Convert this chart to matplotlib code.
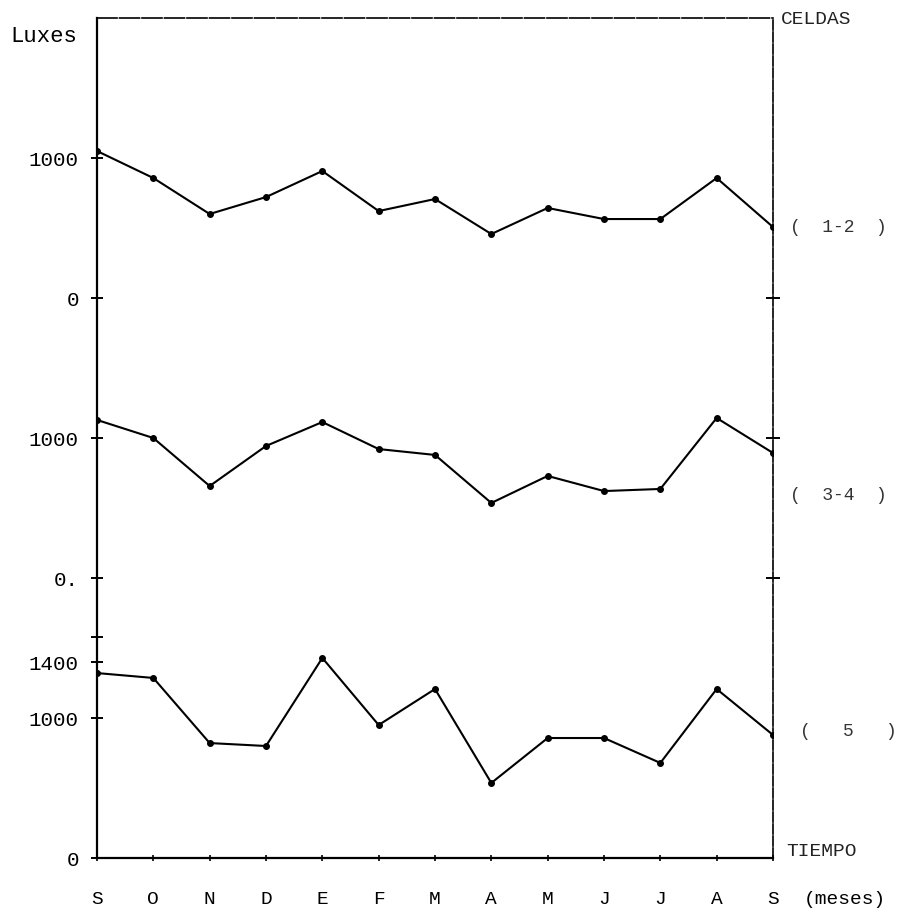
import numpy as np
import matplotlib
matplotlib.use('Agg')
import matplotlib.pyplot as plt

plt.rcParams['font.family'] = ['Liberation Mono', 'DejaVu Sans Mono']

months = ['S', 'O', 'N', 'D', 'E', 'F', 'M', 'A', 'M', 'J', 'J', 'A', 'S']

# luxes por mes, cada grupo de celdas
celdas_1_2 = [1050, 857, 600, 721, 907, 621, 707, 457, 643, 564, 564, 857, 507]
celdas_3_4 = [1129, 1000, 657, 943, 1114, 921, 879, 536, 729, 621, 636, 1143, 893]
celdas_5 = [1321, 1286, 821, 800, 1429, 950, 1207, 536, 857, 857, 679, 1207, 879]

series = [(celdas_1_2, 4000, '(  1-2  )', 0.75),
          (celdas_3_4, 2000, '(  3-4  )', 0.432),
          (celdas_5, 0, '(   5   )', 0.15)]

my_dpi = 100
fig = plt.figure(figsize=(898 / my_dpi, 911 / my_dpi), dpi=my_dpi)
ax = fig.add_axes([97 / 898, 53 / 911, 676 / 898, 840 / 911])

x = np.arange(len(months))
for vals, base, label, ypos in series:
    y = np.array(vals) + base
    ax.plot(x, y, color='black', lw=1.5, marker='o', ms=4, mec='black', mfc='black')
    xpos = 1.025 if '5' not in label else 1.04
    ax.text(xpos, ypos, label, transform=ax.transAxes,
            fontsize=13, va='center', ha='left', color='#333333')

ax.set_xlim(0, 12)
ax.set_ylim(0, 6000)

# ejes
for side in ['left', 'bottom']:
    ax.spines[side].set_linewidth(1.6)
ax.spines['top'].set_linewidth(1.2)
ax.spines['top'].set_linestyle((0, (12, 1.5)))
ax.spines['right'].set_linewidth(1.2)
ax.spines['right'].set_linestyle((0, (6, 1.2)))

ax.set_xticks(x)
ax.set_xticklabels(months, fontsize=14)
ax.tick_params(axis='x', direction='inout', length=5, width=1.2, pad=21)

left_ticks = [5000, 4000, 3000, 2000, 1580, 1400, 1000, 0]
left_labels = ['1000', '0', '1000', '0.', '', '1400', '1000', '0']
ax.set_yticks(left_ticks)
ax.set_yticklabels(left_labels, fontsize=15)
ax.tick_params(axis='y', direction='inout', length=8, width=1.4, pad=9)

ax2 = ax.twinx()
ax2.set_ylim(0, 6000)
ax2.set_yticks([4000, 3000, 2000])
ax2.set_yticklabels([])
ax2.tick_params(axis='y', direction='inout', length=10, width=1.4)
for s in ax2.spines.values():
    s.set_visible(False)

ax.text(-0.128, 0.978, 'Luxes', transform=ax.transAxes, fontsize=16,
        va='center', ha='left')
ax.text(1.012, 0.998, 'CELDAS', transform=ax.transAxes, fontsize=14,
        va='center', ha='left', color='#222222')
ax.text(1.02, 0.008, 'TIEMPO', transform=ax.transAxes, fontsize=14,
        va='center', ha='left', color='#222222')
ax.text(1.045, -0.05, '(meses)', transform=ax.transAxes, fontsize=14,
        va='center', ha='left')

plt.savefig('out.png', dpi=my_dpi)
plt.close()
